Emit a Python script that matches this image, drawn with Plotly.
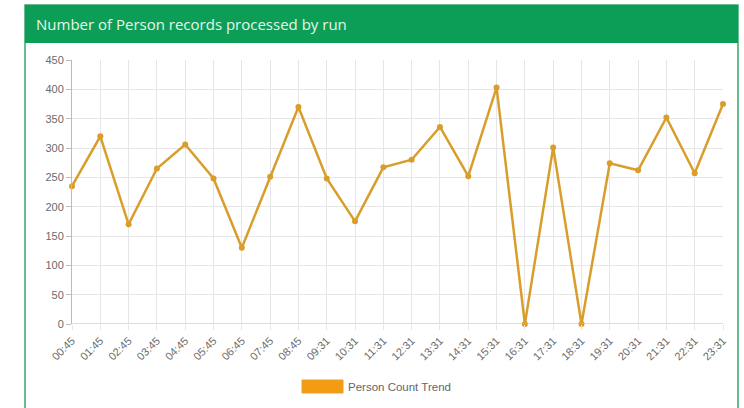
import plotly.graph_objects as go

runs = ["00:45", "01:45", "02:45", "03:45", "04:45", "05:45", "06:45", "07:45",
        "08:45", "09:31", "10:31", "11:31", "12:31", "13:31", "14:31", "15:31",
        "16:31", "17:31", "18:31", "19:31", "20:31", "21:31", "22:31", "23:31"]
person_counts = [235, 320, 170, 265, 306, 248, 130, 251,
                 370, 248, 175, 267, 280, 336, 252, 403,
                 0, 301, 0, 274, 262, 352, 257, 375]
y_ticks = [0, 50, 100, 150, 200, 250, 300, 350, 400, 450]

LINE = "#d99d2b"
GRID = "#e6e6e6"
TICK_FONT = dict(family="Liberation Sans, Arial, sans-serif", size=11, color="#6a6a6a")

fig = go.Figure()
fig.add_trace(go.Scatter(
    x=runs, y=person_counts, mode="lines+markers",
    line=dict(color=LINE, width=2.5),
    marker=dict(color=LINE, size=6),
    showlegend=False, cliponaxis=False,
))

PW, PH = 651, 264
def px(x):
    return (x - 72) / PW
def py(y):
    return (324 - y) / PH

fig.update_layout(
    width=744, height=408,
    margin=dict(l=72, r=21, t=60, b=84),
    paper_bgcolor="white", plot_bgcolor="white",
    xaxis=dict(
        type="category", range=[0, len(runs) - 1],
        showgrid=True, gridcolor=GRID, gridwidth=1,
        showline=False, zeroline=False,
        ticks="outside", ticklen=5, tickcolor=GRID,
        tickangle=-45, tickfont=TICK_FONT,
    ),
    yaxis=dict(
        range=[0, 450], tickvals=y_ticks,
        showgrid=True, gridcolor=GRID, gridwidth=1,
        showline=True, linecolor="#bbbbbb", linewidth=1,
        zeroline=False,
        ticks="outside", ticklen=5, tickcolor="#bbbbbb",
        tickfont=TICK_FONT,
    ),
    shapes=[
        dict(type="rect", xref="paper", yref="paper",
             x0=px(25), x1=px(738), y0=py(412), y1=py(5),
             line=dict(color="#3aa56f", width=1.5), fillcolor="rgba(0,0,0,0)", layer="below"),
        dict(type="rect", xref="paper", yref="paper",
             x0=px(25), x1=px(738), y0=py(43), y1=py(5),
             line=dict(width=0), fillcolor="#0c9e57", layer="below"),
        dict(type="line", xref="paper", yref="y", x0=0, x1=1, y0=0, y1=0,
             line=dict(color="#bbbbbb", width=1)),
        dict(type="rect", xref="paper", yref="paper",
             x0=px(302), x1=px(343), y0=py(393), y1=py(380),
             line=dict(color="#e6a028", width=1), fillcolor="#f39c12"),
    ],
    annotations=[
        dict(text="Number of Person records processed by run",
             xref="paper", yref="paper", x=px(34), y=py(24),
             xanchor="left", yanchor="middle", showarrow=False,
             font=dict(family="Open Sans, sans-serif", size=15, color="#e6f6ea")),
        dict(text="Person Count Trend",
             xref="paper", yref="paper", x=px(346), y=py(387),
             xanchor="left", yanchor="middle", showarrow=False,
             font=dict(family="Liberation Sans, Arial, sans-serif", size=11.5, color="#666666")),
    ],
)

fig.write_html("out.html", config={"displayModeBar": False},
               post_script="document.body.style.margin='0';document.body.style.overflow='hidden';")
